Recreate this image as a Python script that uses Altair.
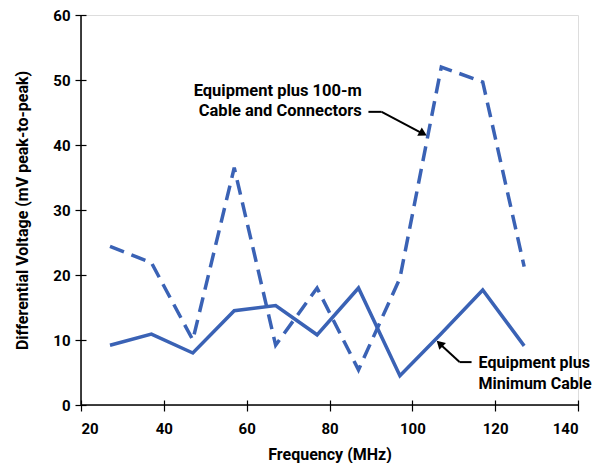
import altair as alt
import pandas as pd

# Data
freq = [27, 37, 47, 57, 67, 77, 87, 97, 107, 117, 127]
min_cable = [9.2, 10.9, 8.0, 14.5, 15.3, 10.8, 18.0, 4.5, 11.0, 17.7, 9.1]
cable_100m = [24.4, 21.9, 10.0, 36.5, 9.2, 18.0, 5.4, 19.5, 52.0, 49.7, 21.3]

x_ticks = [20, 40, 60, 80, 100, 120, 140]
y_ticks = [0, 10, 20, 30, 40, 50, 60]

label1_lines = ["Equipment plus 100-m", "Cable and Connectors"]
label2_lines = ["Equipment plus", "Minimum Cable"]

FONT = "Roboto"
BLUE = "#3a62b5"

df_min = pd.DataFrame({"f": freq, "v": min_cable})
df_100 = pd.DataFrame({"f": freq, "v": cable_100m})

xs = alt.Scale(domain=[20, 140], nice=False)
ys = alt.Scale(domain=[0, 60], nice=False)

x_axis = alt.Axis(values=x_ticks, title="Frequency (MHz)", grid=False, domain=False,
                  offset=-5, tickSize=11, tickColor="black", tickWidth=1.2,
                  labelFont=FONT, labelFontSize=15, labelFontWeight="bold", labelColor="black",
                  labelPadding=10, titleFont=FONT, titleFontSize=16, titleFontWeight="bold",
                  titleColor="black", titlePadding=10)
y_axis = alt.Axis(values=y_ticks, title="Differential Voltage (mV peak-to-peak)", grid=False,
                  domain=False, offset=-5, tickSize=11, tickColor="black", tickWidth=1.2,
                  labelFont=FONT, labelFontSize=15, labelFontWeight="bold", labelColor="black",
                  labelPadding=5, titleFont=FONT, titleFontSize=16, titleFontWeight="bold",
                  titleColor="black", titlePadding=22)

line_min = alt.Chart(df_min).mark_line(color=BLUE, strokeWidth=3.5, strokeJoin="miter").encode(
    x=alt.X("f:Q", scale=xs, axis=x_axis),
    y=alt.Y("v:Q", scale=ys, axis=y_axis),
)
line_100 = alt.Chart(df_100).mark_line(color=BLUE, strokeWidth=3.5, strokeDash=[15, 8],
                                       strokeJoin="miter").encode(
    x=alt.X("f:Q", scale=xs),
    y=alt.Y("v:Q", scale=ys),
)

# axis lines
x_domain = alt.Chart(pd.DataFrame({"a": [0]})).mark_rule(color="black", strokeWidth=1.5).encode(
    x=alt.datum(20, scale=xs), x2=alt.datum(140), y=alt.datum(0, scale=ys))
y_domain = alt.Chart(pd.DataFrame({"a": [0]})).mark_rule(color="black", strokeWidth=1.5).encode(
    y=alt.datum(0, scale=ys), y2=alt.datum(60), x=alt.datum(20, scale=xs))

# annotation text
t1 = pd.DataFrame({"x": [87.8, 87.8], "y": [48.3, 45.2], "t": label1_lines})
t2 = pd.DataFrame({"x": [116.0, 116.0], "y": [6.5, 3.2], "t": label2_lines})
text1 = alt.Chart(t1).mark_text(font=FONT, fontSize=16.5, fontWeight="bold", align="right",
                                baseline="middle", color="black").encode(
    x=alt.X("x:Q", scale=xs), y=alt.Y("y:Q", scale=ys), text="t:N")
text2 = alt.Chart(t2).mark_text(font=FONT, fontSize=16, fontWeight="bold", align="left",
                                baseline="middle", color="black").encode(
    x=alt.X("x:Q", scale=xs), y=alt.Y("y:Q", scale=ys), text="t:N")

# arrows: segments
segs = pd.DataFrame({
    "x": [89.4, 92.6, 114.3, 111.4],
    "y": [45.1, 45.1, 6.6, 6.6],
    "x2": [92.6, 102.4, 111.4, 106.8],
    "y2": [45.1, 41.8, 6.6, 9.3],
})
arrow_lines = alt.Chart(segs).mark_rule(color="black", strokeWidth=2).encode(
    x=alt.X("x:Q", scale=xs), y=alt.Y("y:Q", scale=ys), x2="x2:Q", y2="y2:Q")
heads = pd.DataFrame({"x": [102.6, 106.6], "y": [41.75, 9.45], "ang": [118.5, 314]})
arrow_heads = alt.Chart(heads).mark_point(shape="triangle-up", filled=True, color="black",
                                          size=90, opacity=1).encode(
    x=alt.X("x:Q", scale=xs), y=alt.Y("y:Q", scale=ys),
    angle=alt.Angle("ang:Q", scale=None))

chart = alt.layer(x_domain, y_domain, line_min, line_100, arrow_lines, arrow_heads, text1, text2).properties(
    width=497, height=390,
    autosize=alt.AutoSizeParams(type="none"),
    padding={"left": 73, "top": 7, "right": 14, "bottom": 58},
).configure_view(stroke=None).configure(background="white")

chart.save("out.html", embed_options={"renderer": "svg", "actions": False})
